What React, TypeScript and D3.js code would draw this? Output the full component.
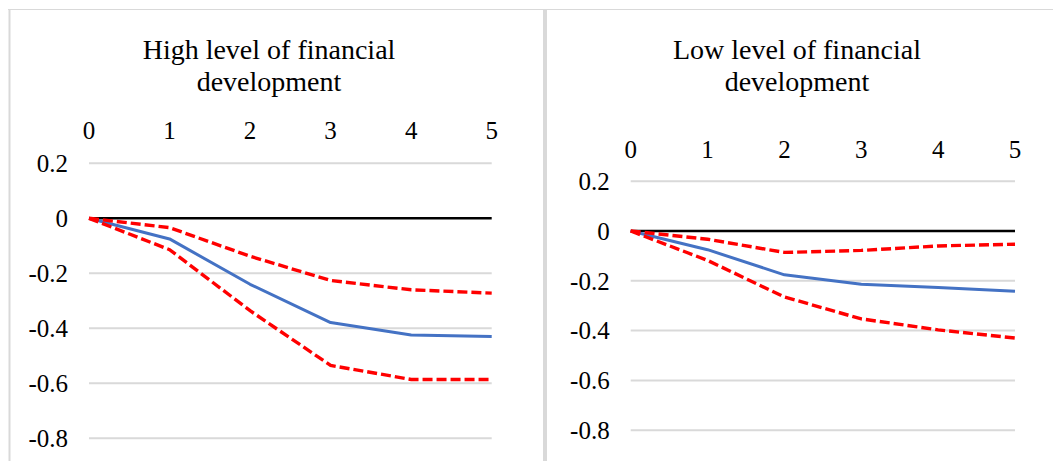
import React from "react";
import * as d3 from "d3";

// Horizon (periods) shared by both panels
const periods = [0, 1, 2, 3, 4, 5];
const xTickLabels = ["0", "1", "2", "3", "4", "5"];
const yTicks = [0.2, 0, -0.2, -0.4, -0.6, -0.8];
const yTickLabels = ["0.2", "0", "-0.2", "-0.4", "-0.6", "-0.8"];

// High level of financial development
const highResponse = [0, -0.075, -0.24, -0.379, -0.424, -0.43];
const highUpper = [0, -0.034, -0.138, -0.226, -0.26, -0.272];
const highLower = [0, -0.114, -0.336, -0.535, -0.586, -0.586];

// Low level of financial development
const lowResponse = [0, -0.075, -0.176, -0.214, -0.227, -0.242];
const lowUpper = [0, -0.033, -0.086, -0.078, -0.06, -0.053];
const lowLower = [0, -0.118, -0.265, -0.353, -0.397, -0.43];

const titleHigh = ["High level of financial", "development"];
const titleLow = ["Low level of financial", "development"];

const FONT = "'Liberation Serif', 'Times New Roman', serif";

type PanelProps = {
  title: string[];
  titleX: number;
  x0: number;
  x1: number;
  yTop: number; // pixel of 0.2
  yZero: number; // pixel of 0
  xLabelY: number;
  response: number[];
  upper: number[];
  lower: number[];
};

function Panel(p: PanelProps) {
  const x = d3.scaleLinear().domain([0, 5]).range([p.x0, p.x1]);
  const y = d3.scaleLinear().domain([0.2, 0]).range([p.yTop, p.yZero]);
  const line = d3
    .line<number>()
    .x((_, i) => x(periods[i]))
    .y((d) => y(d));

  return (
    <g fontFamily={FONT} fill="#000">
      <text textAnchor="middle" fontSize={28}>
        <tspan x={p.titleX} y={59}>{p.title[0]}</tspan>
        <tspan x={p.titleX} y={91}>{p.title[1]}</tspan>
      </text>
      {yTicks.map((t, i) => (
        <g key={t}>
          {t !== 0 && (
            <line
              x1={p.x0}
              x2={p.x1}
              y1={y(t)}
              y2={y(t)}
              stroke="#D9D9D9"
              strokeWidth={2}
            />
          )}
          <text
            x={p.x0 - 21}
            y={y(t)}
            dy="0.35em"
            textAnchor="end"
            fontSize={25}
          >
            {yTickLabels[i]}
          </text>
        </g>
      ))}
      {periods.map((d, i) => (
        <text
          key={d}
          x={x(d)}
          y={p.xLabelY}
          textAnchor="middle"
          fontSize={25}
        >
          {xTickLabels[i]}
        </text>
      ))}
      <line
        x1={p.x0}
        x2={p.x1}
        y1={y(0)}
        y2={y(0)}
        stroke="#000"
        strokeWidth={2.5}
      />
      <path
        d={line(p.response) || ""}
        fill="none"
        stroke="#4472C4"
        strokeWidth={3}
        strokeLinejoin="round"
      />
      <path
        d={line(p.upper) || ""}
        fill="none"
        stroke="#FF0000"
        strokeWidth={3.4}
        strokeDasharray="10,4"
      />
      <path
        d={line(p.lower) || ""}
        fill="none"
        stroke="#FF0000"
        strokeWidth={3.4}
        strokeDasharray="10,4"
      />
    </g>
  );
}

export default function App() {
  return (
    <svg
      width={1053}
      height={461}
      style={{ position: "absolute", left: 0, top: 0, background: "#fff" }}
    >
      <rect x={0} y={0} width={1053} height={461} fill="#fff" />
      {/* chart frames */}
      <line x1={8} x2={1053} y1={9.5} y2={9.5} stroke="#D9D9D9" strokeWidth={1} />
      <line x1={9.5} x2={9.5} y1={9} y2={461} stroke="#D9D9D9" strokeWidth={2} />
      <line x1={545} x2={545} y1={9} y2={461} stroke="#D9D9D9" strokeWidth={4} />
      <Panel
        title={titleHigh}
        titleX={269}
        x0={89}
        x1={491.7}
        yTop={163.3}
        yZero={218.3}
        xLabelY={139}
        response={highResponse}
        upper={highUpper}
        lower={highLower}
      />
      <Panel
        title={titleLow}
        titleX={797}
        x0={630.7}
        x1={1015}
        yTop={181.2}
        yZero={231}
        xLabelY={158}
        response={lowResponse}
        upper={lowUpper}
        lower={lowLower}
      />
    </svg>
  );
}
